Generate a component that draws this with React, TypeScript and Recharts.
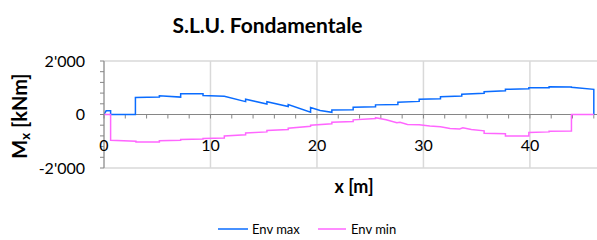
import React from "react";
import { LineChart, Line, XAxis, YAxis, CartesianGrid, ReferenceLine } from "recharts";

const envMaxX = [0, 0.2, 0.62, 0.62, 2.95, 2.95, 5.2, 5.2, 7.2, 7.2, 9.3, 9.3, 11.3, 13.3, 13.3, 15.3, 15.3, 17.3, 17.3, 19.4, 19.4, 20.3, 21.4, 21.4, 23.4, 23.4, 25.5, 25.5, 27.6, 27.6, 29.6, 29.6, 31.6, 31.6, 33.6, 33.6, 35.7, 35.7, 37.7, 37.7, 39.9, 39.9, 41.8, 41.8, 43.9, 43.9, 46, 46];
const envMaxY = [0, 140, 140, 0, 0, 640, 650, 700, 650, 780, 780, 710, 680, 480, 570, 390, 480, 300, 370, 90, 260, 150, 80, 170, 180, 270, 290, 360, 370, 460, 490, 570, 590, 660, 690, 760, 790, 850, 890, 940, 960, 1000, 1000, 1040, 1030, 1015, 940, 0];

const envMinX = [0, 0.62, 0.62, 3.0, 3.0, 5.2, 5.2, 7.2, 7.2, 9.3, 9.3, 11.3, 11.3, 13.3, 13.3, 15.3, 15.3, 17.3, 17.3, 19.4, 19.4, 21.4, 21.4, 23.4, 23.4, 25.5, 25.5, 26.5, 27.5, 27.8, 28.5, 29.6, 30.6, 31.6, 32.5, 33.4, 33.7, 34.5, 35.7, 35.7, 37.7, 37.7, 39.9, 39.9, 41.8, 41.8, 43.9, 43.9, 46];
const envMinY = [0, 0, -965, -1000, -1030, -1030, -980, -960, -930, -920, -900, -880, -800, -760, -690, -650, -600, -560, -510, -440, -400, -350, -290, -260, -200, -150, -120, -200, -310, -290, -370, -380, -430, -460, -520, -540, -500, -560, -610, -700, -720, -800, -800, -670, -650, -630, -620, 0, 0];

const xGridTicks = [0, 10, 20, 30, 40];
const xMinorTicks = [0, 2, 4, 6, 8, 10, 12, 14, 16, 18, 20, 22, 24, 26, 28, 30, 32, 34, 36, 38, 40, 42, 44, 46];
const yTicks = [-2000, -1600, -1200, -800, -400, 0, 400, 800, 1200, 1600, 2000];
const yLabelTicks = [-2000, 0, 2000];

const maxData = envMaxX.map((x, i) => ({ x, y: envMaxY[i] }));
const minData = envMinX.map((x, i) => ({ x, y: envMinY[i] }));

const FONT = "Lato, 'Open Sans', sans-serif";
const BLUE = "#0a6cff";
const PINK = "#ff66ff";

const fmt = (v: number) => {
  const s = Math.abs(v).toString().replace(/\B(?=(\d{3})+(?!\d))/g, "'");
  return (v < 0 ? "-" : "") + s;
};

const XTick = (props: any) => {
  const { x, payload } = props;
  return (
    <text x={x} y={151} textAnchor="middle" fontFamily={FONT} fontSize={16} fill="#000">
      {payload.value}
    </text>
  );
};

const YTick = (props: any) => {
  const { x, y, payload } = props;
  if (!yLabelTicks.includes(payload.value)) return <g />;
  return (
    <text x={x - 13} y={y + 5.5} textAnchor="end" fontFamily={FONT} fontSize={16} fill="#000">
      {fmt(payload.value)}
    </text>
  );
};

export default function App() {
  return (
    <div style={{ position: "relative", width: 597, height: 240, background: "#fff" }}>
      <style>{"body{margin:0;}"}</style>
      <LineChart width={597} height={240} margin={{ top: 61, right: 0, bottom: 0, left: 0 }}>
        <CartesianGrid
          stroke="#d9d9d9"
          strokeWidth={1.5}
          horizontalValues={yLabelTicks.filter((v) => v !== 0)}
          verticalValues={xGridTicks}
        />
        <XAxis
          dataKey="x"
          type="number"
          domain={[0, 46.3]}
          ticks={xGridTicks}
          axisLine={false}
          tickLine={false}
          tick={<XTick />}
          allowDataOverflow
          height={72}
          allowDuplicatedCategory={false}
        />
        <YAxis
          type="number"
          domain={[-2000, 2000]}
          ticks={yTicks}
          interval={0}
          width={104}
          tickSize={4}
          axisLine={{ stroke: "#868686", strokeWidth: 1 }}
          tickLine={{ stroke: "#868686", strokeWidth: 1 }}
          tick={<YTick />}
        />
        <ReferenceLine y={0} stroke="#868686" strokeWidth={1.2} ifOverflow="extendDomain" />
        {xMinorTicks.map((t) => (
          <ReferenceLine
            key={t}
            segment={[{ x: t, y: 0 }, { x: t, y: -150 }]}
            stroke="#868686"
            strokeWidth={1}
          />
        ))}
        <Line data={maxData} dataKey="y" type="linear" stroke={BLUE} strokeWidth={1.5} dot={false} isAnimationActive={false} />
        <Line data={minData} dataKey="y" type="linear" stroke={PINK} strokeWidth={1.5} dot={false} isAnimationActive={false} />
      </LineChart>
      <svg width={597} height={240} style={{ position: "absolute", left: 0, top: 0, pointerEvents: "none" }}>
        <text x={267.5} y={33} textAnchor="middle" fontFamily={FONT} fontWeight="bold" fontSize={21} fill="#000">
          S.L.U. Fondamentale
        </text>
        <text transform="translate(27,116) rotate(-90)" textAnchor="middle" fontFamily={FONT} fontWeight="bold" fontSize={20} fill="#000">
          M<tspan fontSize={13} dy={3}>x</tspan>
          <tspan dy={-3}> [kNm]</tspan>
        </text>
        <text x={354} y={193} textAnchor="middle" fontFamily={FONT} fontWeight="bold" fontSize={18} fill="#000">
          x [m]
        </text>
        <line x1={218} y1={229} x2={248} y2={229} stroke={BLUE} strokeWidth={1.5} />
        <text x={252} y={233.5} fontFamily={FONT} fontSize={13} fill="#000">Env max</text>
        <line x1={318} y1={229} x2={346} y2={229} stroke={PINK} strokeWidth={1.5} />
        <text x={351} y={233.5} fontFamily={FONT} fontSize={13} fill="#000">Env min</text>
      </svg>
    </div>
  );
}
